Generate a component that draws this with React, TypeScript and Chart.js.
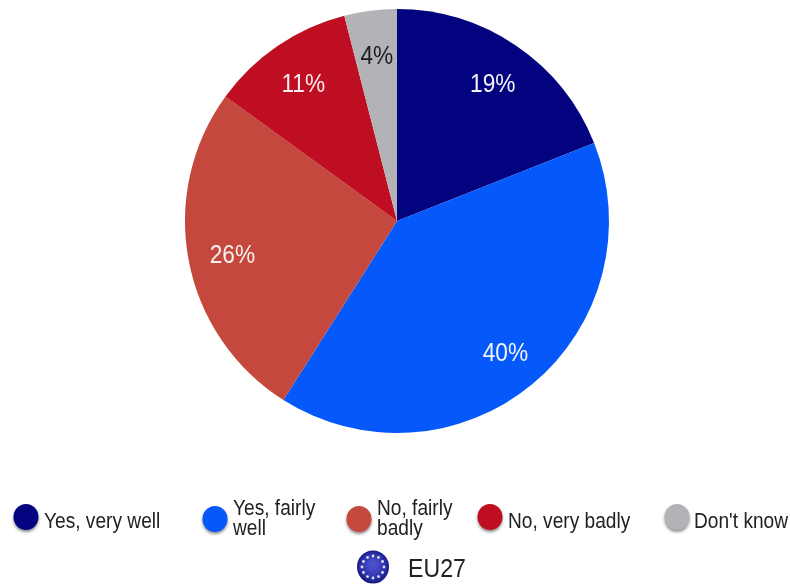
import React, { useEffect, useRef } from "react";
import { Chart, registerables, Plugin } from "chart.js";

Chart.register(...registerables);

const categories = ["Yes, very well", "Yes, fairly well", "No, fairly badly", "No, very badly", "Don't know"];
const shares = [19, 40, 26, 11, 4];
const sliceColors = ["#03037f", "#0558fa", "#c5483e", "#bf0d22", "#b3b3b7"];
const labelColors = ["#f4f4f8", "#f4f4f8", "#f6f0ee", "#f6eeee", "#1c1c1c"];
const legendLines = [["Yes, very well"], ["Yes, fairly", "well"], ["No, fairly", "badly"], ["No, very badly"], ["Don't know"]];
const legendMarkerX = [26, 215, 359, 490, 677];
const legendMarkerY = [517, 519, 519, 517, 517];
const legendTextX = [44, 233, 377, 508, 694];
const groupName = "EU27";

const FONT = '"Liberation Sans", Arial, sans-serif';
const SQUEEZE = 0.89;

function squeezedText(ctx: CanvasRenderingContext2D, text: string, x: number, y: number, size: number, color: string, align: CanvasTextAlign) {
  ctx.save();
  ctx.translate(x, y);
  ctx.scale(SQUEEZE, 1);
  ctx.font = `${size}px ${FONT}`;
  ctx.fillStyle = color;
  ctx.textAlign = align;
  ctx.textBaseline = "middle";
  ctx.fillText(text, 0, 0);
  ctx.restore();
}

// Percentages placed at 80% of the radius along each slice's bisector.
const sliceLabels: Plugin<"pie"> = {
  id: "sliceLabels",
  afterDatasetsDraw(chart) {
    const { ctx } = chart;
    chart.getDatasetMeta(0).data.forEach((arc: any, i: number) => {
      const { startAngle, endAngle, outerRadius, x, y } = arc.getProps(["startAngle", "endAngle", "outerRadius", "x", "y"], true);
      const mid = (startAngle + endAngle) / 2;
      const r = outerRadius * 0.795;
      squeezedText(ctx, `${shares[i]}%`, x + 1 + Math.cos(mid) * r, y + 3.5 + Math.sin(mid) * r, 25.5, labelColors[i], "center");
    });
  },
};

function drawMarker(ctx: CanvasRenderingContext2D, x: number, y: number, color: string) {
  ctx.save();
  ctx.shadowColor = "rgba(0,0,0,0.45)";
  ctx.shadowBlur = 3;
  ctx.shadowOffsetY = 2;
  ctx.fillStyle = color;
  ctx.beginPath();
  ctx.ellipse(x, y, 12.5, 13, 0, 0, Math.PI * 2);
  ctx.fill();
  ctx.restore();
}

function drawFlag(ctx: CanvasRenderingContext2D, x: number, y: number) {
  const gradient = ctx.createRadialGradient(x, y - 3, 3, x, y, 17);
  gradient.addColorStop(0, "#4a50cc");
  gradient.addColorStop(0.7, "#2a2fa8");
  gradient.addColorStop(1, "#12146e");
  ctx.fillStyle = gradient;
  ctx.beginPath();
  ctx.ellipse(x, y, 16, 16.5, 0, 0, Math.PI * 2);
  ctx.fill();
  ctx.fillStyle = "#dfe0f2";
  for (let i = 0; i < 12; i++) {
    const a = (i * Math.PI) / 6;
    ctx.beginPath();
    ctx.arc(x + Math.cos(a) * 11, y + Math.sin(a) * 11, 1.4, 0, Math.PI * 2);
    ctx.fill();
  }
}

const keyPanel: Plugin<"pie"> = {
  id: "keyPanel",
  afterDraw(chart) {
    const { ctx } = chart;
    legendLines.forEach((lines, i) => {
      drawMarker(ctx, legendMarkerX[i], legendMarkerY[i], sliceColors[i]);
      if (lines.length === 1) {
        squeezedText(ctx, lines[0], legendTextX[i], 522, 21.5, "#222222", "left");
      } else {
        squeezedText(ctx, lines[0], legendTextX[i], 509, 21.5, "#222222", "left");
        squeezedText(ctx, lines[1], legendTextX[i], 529, 21.5, "#222222", "left");
      }
    });
    drawFlag(ctx, 373, 567);
    squeezedText(ctx, groupName, 408, 570, 26, "#222222", "left");
  },
};

export default function App() {
  const canvasRef = useRef<HTMLCanvasElement>(null);

  useEffect(() => {
    document.body.style.margin = "0";
    const chart = new Chart(canvasRef.current!, {
      type: "pie",
      data: {
        labels: categories,
        datasets: [{ data: shares, backgroundColor: sliceColors, borderWidth: 0 }],
      },
      options: {
        animation: false,
        responsive: false,
        layout: { padding: { left: 185, right: 181, top: 9, bottom: 152 } },
        plugins: { legend: { display: false }, tooltip: { enabled: false }, title: { display: false } },
      },
      plugins: [sliceLabels, keyPanel],
    });
    return () => chart.destroy();
  }, []);

  return <canvas ref={canvasRef} width={790} height={585} style={{ display: "block" }} />;
}
